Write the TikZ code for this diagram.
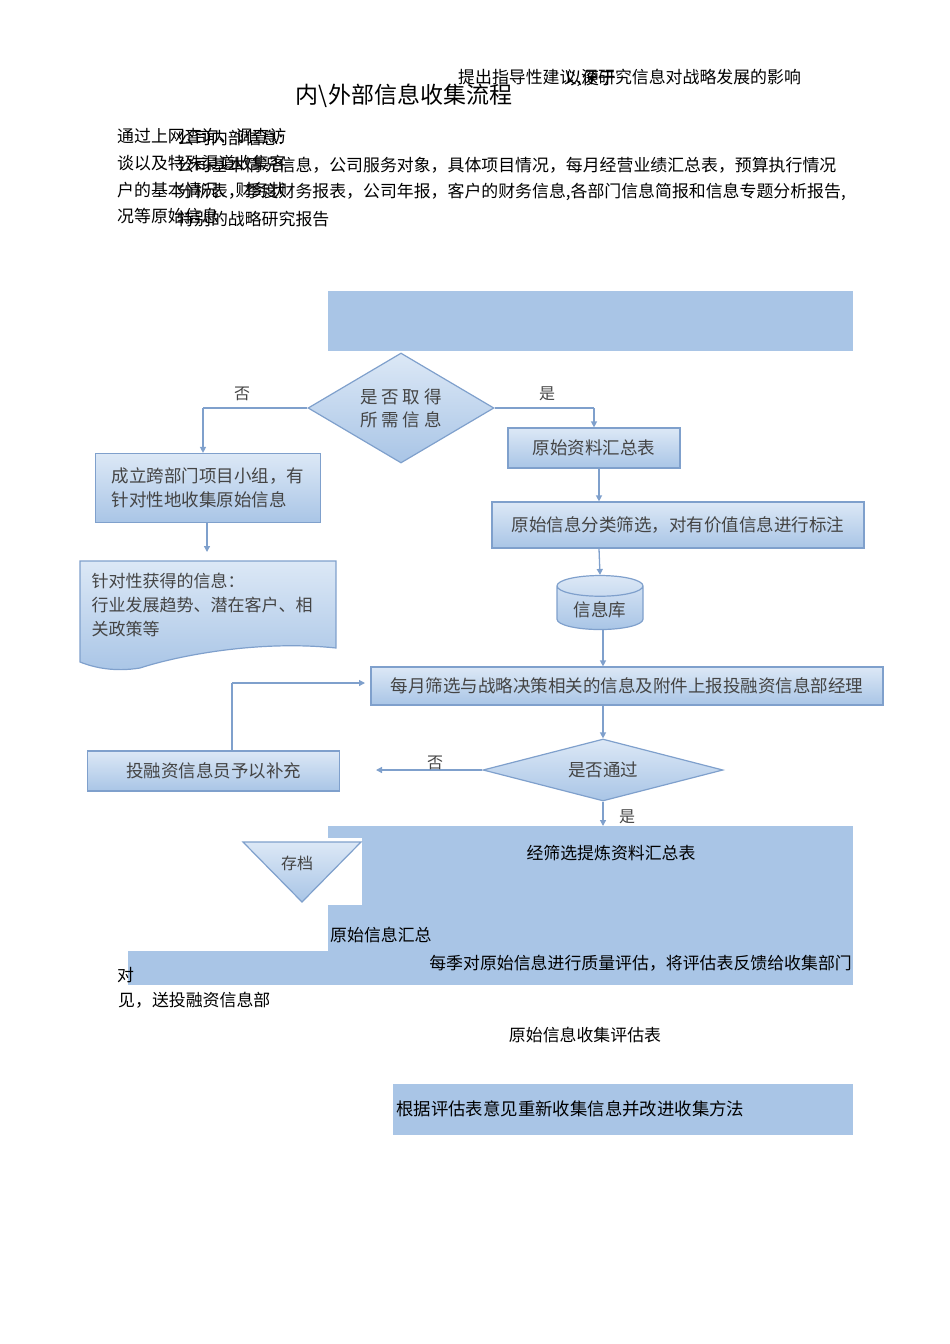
\documentclass[tikz,border=0pt]{standalone}
\usepackage{fontspec}
\setmainfont{Noto Sans CJK SC}
\usetikzlibrary{shapes.geometric,arrows.meta}
\definecolor{pblue}{HTML}{A9C5E6}
\definecolor{bord}{HTML}{7FA0CC}
\definecolor{light}{HTML}{DCE8F6}
\definecolor{tx}{HTML}{444444}
\tikzset{
 txt/.style={font=\fontsize{16.9}{17}\selectfont,inner sep=0pt},
 flow/.style={draw=bord,line width=1.2pt,top color=light,bottom color=pblue,font=\fontsize{17.5}{18}\selectfont,text=tx},
 ar/.style={draw=bord,line width=1.3pt,-{Triangle[length=6pt,width=6pt]}},
 ln/.style={draw=bord,line width=1.3pt},
 lab/.style={font=\fontsize{16}{16}\selectfont,text=tx,inner sep=0pt}
}
\begin{document}
\begin{tikzpicture}[x=1pt,y=-1pt]
\useasboundingbox (0,0) rectangle (950,1344);
% header texts
\node[txt,anchor=west] (top) at (458,78) {提出指导性建议,深研究信息对战略发展的影响};
\node[txt,anchor=west] (top2) at (565,78) {以便于};
\node[font=\fontsize{23}{23}\selectfont,inner sep=0pt] (title) at (404,96) {内\textbackslash 外部信息收集流程};
\node[txt,anchor=west] (a1) at (117,136) {通过上网查询、调查访};
\node[txt,anchor=west] (a2) at (117,163) {谈以及特殊渠道收集客};
\node[txt,anchor=west] (a3) at (117,190) {户的基本情况、财务状};
\node[txt,anchor=west] (a4) at (117,216) {况等原始信息};
\node[txt,anchor=west] (b1) at (177,138) {公司内部信息:};
\node[txt,anchor=west] (b2) at (177,165) {公司基本情况信息，公司服务对象，具体项目情况，每月经营业绩汇总表，预算执行情况};
\node[txt,anchor=west] (b3) at (177,192) {分析表，季度财务报表，公司年报，客户的财务信息,各部门信息简报和信息专题分析报告,};
\node[txt,anchor=west] (b4) at (177,219) {特别的战略研究报告};
% top blue box
\fill[pblue] (328,291) rectangle (853,351);
% diamond 1
\node[flow,diamond,minimum width=186pt,minimum height=110pt,inner sep=0pt,align=center,aspect=1.7] (d1) at (401,408) {是 否 取 得\\[5pt]所 需 信 息};
\node[flow,rectangle,minimum width=225pt,minimum height=69pt,align=left] (g1) at (208,488) {成立跨部门项目小组，有\\[6pt]针对性地收集原始信息};
\node[flow,rectangle,minimum width=172pt,minimum height=40pt] (h1) at (594,448) {原始资料汇总表};
\coordinate (nL) at (203,408);
\coordinate (yR) at (594,408);
\draw[ln] (d1.west) -- (nL);
\draw[ar] (nL) -- (g1.north -| nL);
\draw[ln] (d1.east) -- (yR);
\draw[ar] (yR) -- (h1.north);
\node[lab] (no1) at (242,394) {否};
\node[lab] (yes1) at (547,394) {是};
\node[flow,rectangle,minimum width=372pt,minimum height=46pt] (h2) at (678,525) {原始信息分类筛选，对有价值信息进行标注};
\draw[ar] (h1.south -| 599,0) -- (h2.north -| 599,0);
% document shape
\path[flow] (80,561) -- (336,561) -- (336,648) .. controls (260,640) and (180,655) .. (140,668) .. controls (115,672) and (95,668) .. (80,662) -- cycle;
\node[font=\fontsize{17}{17}\selectfont,text=tx,align=left,anchor=north west] (g2) at (88,570) {针对性获得的信息：\\[7pt]行业发展趋势、潜在客户、相\\[7pt]关政策等};
\draw[ar] (g1.south -| 207,0) -- (207,552);
\node[flow,cylinder,shape border rotate=90,aspect=0.35,minimum width=86pt,minimum height=54pt] (db) at (600,610) {信息库};
\draw[ar] (h2.south -| 599,0) -- (db.top);
\node[flow,rectangle,minimum width=512pt,minimum height=38pt] (m) at (627,686) {每月筛选与战略决策相关的信息及附件上报投融资信息部经理};
\draw[ar] (db.bottom -| 603,0) -- (m.north -| 603,0);
\node[flow,diamond,minimum width=240pt,minimum height=62pt,inner sep=0pt,aspect=3.8] (d2) at (603,770) {是否通过};
\draw[ar] (m.south -| 603,0) -- (d2.north);
\node[flow,rectangle,minimum width=252pt,minimum height=40pt,anchor=west] (s) at (87,771) {投融资信息员予以补充};
\coordinate (sL) at (376,770);
\draw[ar] (d2.west) -- (sL);
\node[lab] (no2) at (435,763) {否};
\coordinate (c1) at (232,683);
\draw[ln] (s.north -| c1) -- (c1);
\draw[ar] (c1) -- (365,683);
% bottom blue area
\fill[pblue] (328,826) rectangle (853,985);
\fill[pblue] (128,951) rectangle (853,985);
\draw[ar] (d2.south) -- (603,826);
\node[lab] (yes2) at (627,817) {是};
\fill[white] (240,838) rectangle (362,905);
\path[flow] (243,842) -- (361,842) -- (302,902) -- cycle;
\node[lab] (arct) at (297,863) {存档};
\node[txt] (t1) at (611,853) {经筛选提炼资料汇总表};
\node[txt,anchor=west] (t2) at (330,935) {原始信息汇总};
\node[txt,anchor=east] (t3) at (852,963) {每季对原始信息进行质量评估，将评估表反馈给收集部门};
\node[txt,anchor=west] (t4) at (117,975) {对};
\node[txt,anchor=west] (t5) at (118,1000) {见，送投融资信息部};
\node[txt] (t6) at (585,1035) {原始信息收集评估表};
\fill[pblue] (393,1084) rectangle (853,1135);
\node[font=\fontsize{17.4}{17}\selectfont,inner sep=0pt,anchor=west] (t7) at (396,1109) {根据评估表意见重新收集信息并改进收集方法};
\end{tikzpicture}
\end{document}
